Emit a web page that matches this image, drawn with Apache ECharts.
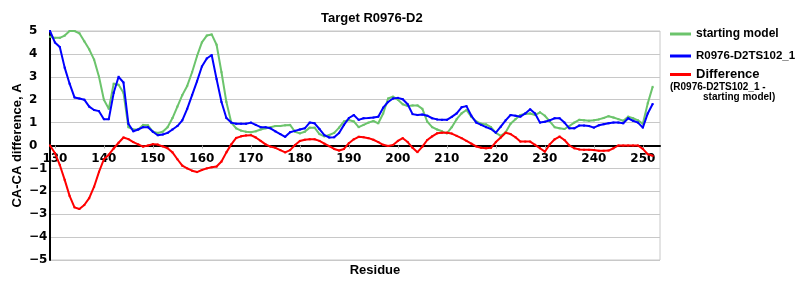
<!DOCTYPE html>
<html>
<head>
<meta charset="utf-8">
<script src="https://cdn.jsdelivr.net/npm/echarts@6/dist/echarts.min.js"></script>
<style>html,body{margin:0;padding:0;background:#fff}#c{width:800px;height:300px}</style>
</head>
<body>
<div id="c"></div>
<script>
const firstResidue = 129;
const xTicks = [130, 140, 150, 160, 170, 180, 190, 200, 210, 220, 230, 240, 250];
const yTicks = [-5, -4, -3, -2, -1, 0, 1, 2, 3, 4, 5];

const startingModel = [
  4.75, 4.7, 4.7, 4.8, 5.0, 5.0, 4.9, 4.55, 4.2, 3.75,
  3.0, 2.0, 1.6, 2.7, 2.65, 2.3, 0.8, 0.7, 0.7, 0.9,
  0.88, 0.6, 0.55, 0.6, 0.8, 1.2, 1.7, 2.2, 2.6, 3.2,
  3.9, 4.5, 4.8, 4.85, 4.4, 3.2, 1.9, 1.0, 0.75, 0.65,
  0.6, 0.58, 0.62, 0.7, 0.75, 0.8, 0.85, 0.85, 0.88, 0.9,
  0.6, 0.53, 0.6, 0.78, 0.78, 0.5, 0.4, 0.46, 0.55, 0.78,
  1.05, 1.11, 1.05, 0.8, 0.9, 1.0, 1.07, 0.97, 1.4, 2.05,
  2.13, 2.0, 1.8, 1.72, 1.75, 1.75, 1.6, 1.04, 0.8, 0.7,
  0.62, 0.53, 0.8, 1.15, 1.4, 1.55, 1.25, 1.05, 0.95, 0.92,
  0.8, 0.55, 0.42, 0.58, 0.95, 1.15, 1.33, 1.38, 1.4, 1.33,
  1.45, 1.3, 1.05, 0.8, 0.75, 0.72, 0.85, 1.0, 1.12, 1.1,
  1.08, 1.1, 1.14, 1.2, 1.28, 1.22, 1.15, 1.08, 1.26, 1.19,
  1.1, 0.95, 1.84, 2.56
];

const model = [
  5.0, 4.5, 4.3, 3.4, 2.7, 2.1, 2.05, 2.0, 1.7, 1.55,
  1.5, 1.15, 1.15, 2.3, 3.0, 2.75, 0.95, 0.62, 0.7, 0.8,
  0.8, 0.6, 0.45, 0.48, 0.55, 0.7, 0.85, 1.1, 1.6, 2.2,
  2.8, 3.45, 3.8, 3.95, 2.9, 1.9, 1.2, 1.0, 0.95, 0.95,
  0.95, 1.0, 0.9, 0.8, 0.8, 0.75, 0.62, 0.5, 0.38, 0.58,
  0.64, 0.7, 0.75, 1.0, 0.97, 0.72, 0.45, 0.35, 0.36, 0.55,
  0.9, 1.2, 1.33, 1.12, 1.19, 1.2, 1.22, 1.26, 1.65, 1.9,
  2.05, 2.08, 2.02, 1.8, 1.37, 1.33, 1.35, 1.3, 1.19, 1.14,
  1.12, 1.12, 1.25, 1.4, 1.67, 1.72, 1.3, 1.0, 0.9, 0.8,
  0.72, 0.56, 0.82, 1.1, 1.33, 1.3, 1.26, 1.4, 1.58, 1.4,
  1.0, 1.04, 1.1, 1.19, 1.19, 1.0, 0.75, 0.75, 0.87, 0.87,
  0.85, 0.78, 0.88, 0.93, 0.97, 1.0, 1.0, 0.97, 1.19, 1.08,
  1.0, 0.78, 1.4, 1.81
];

const difference = [
  0, -0.33, -0.85, -1.5, -2.2, -2.7, -2.77, -2.6, -2.3, -1.8,
  -1.15, -0.6, -0.4, -0.13, 0.12, 0.35, 0.28, 0.15, 0.05, -0.05,
  0, 0.06, 0.04, -0.04, -0.12, -0.3, -0.6, -0.88, -1.0, -1.1,
  -1.16, -1.07, -1.0, -0.95, -0.92, -0.7, -0.3, 0.05, 0.33, 0.4,
  0.44, 0.45, 0.35, 0.2, 0.05, -0.05, -0.1, -0.2, -0.3, -0.2,
  0.02, 0.2, 0.25, 0.27, 0.27, 0.2, 0.08, -0.03, -0.15, -0.22,
  -0.15, 0.1, 0.27, 0.38, 0.36, 0.32, 0.25, 0.15, 0.03, -0.02,
  0.02, 0.2, 0.32, 0.15, -0.1, -0.29, -0.05, 0.24, 0.4, 0.53,
  0.56, 0.56, 0.52, 0.42, 0.32, 0.2, 0.08, -0.04, -0.1, -0.12,
  -0.1, 0.15, 0.35, 0.56, 0.5, 0.36, 0.17, 0.17, 0.17, 0.03,
  -0.12, -0.27, 0.05, 0.27, 0.39, 0.24, 0.0, -0.12, -0.17, -0.19,
  -0.19, -0.2, -0.23, -0.23, -0.22, -0.12, 0, 0, 0, 0,
  0, -0.15, -0.38, -0.45
];

const seriesNames = ['starting model', 'R0976-D2TS102_1', 'Difference'];
const colors = ['#6cc46c', '#0000ff', '#ff0000'];

function pairs(arr) { return arr.map((v, i) => [firstResidue + i, v]); }

const tickFont = { fontFamily: 'DejaVu Sans', fontWeight: 'bold', fontSize: 12, color: '#000' };
const labelFont = { fontFamily: 'Liberation Sans', fontWeight: 'bold', color: '#000' };

function lineSeries(name, data, color, z) {
  return {
    name: name, type: 'line', data: pairs(data), z: z,
    lineStyle: { color: color, width: 2 },
    itemStyle: { color: color },
    symbol: 'rect', symbolSize: 2, showSymbol: true,
    animation: false
  };
}

const chart = echarts.init(document.getElementById('c'), null, { renderer: 'canvas' });
chart.setOption({
  animation: false,
  backgroundColor: '#fff',
  title: {
    text: 'Target R0976-D2', left: 316, top: 7,
    textStyle: Object.assign({}, labelFont, { fontSize: 13 })
  },
  grid: { left: 50, right: 140, top: 31, bottom: 40, show: true, borderColor: '#c8c8c8', borderWidth: 1, outerBoundsMode: 'none', containLabel: false },
  legend: [
    {
      data: [
        { name: seriesNames[0] },
        { name: seriesNames[1], textStyle: { fontSize: 11.5 } }
      ],
      orient: 'vertical', left: 670, top: 28, width: 130, padding: 0,
      icon: 'rect', itemWidth: 21, itemHeight: 3, itemGap: 10,
      textStyle: Object.assign({ overflow: 'none', width: 120 }, labelFont, { fontSize: 12 })
    },
    {
      data: [seriesNames[2]], orient: 'vertical', left: 670, top: 68, width: 130, padding: 0,
      icon: 'rect', itemWidth: 21, itemHeight: 3,
      textStyle: Object.assign({ overflow: 'none', width: 120 }, labelFont, { fontSize: 13 })
    }
  ],
  graphic: [
    { type: 'text', left: 670, top: 82, style: { text: '(R0976-D2TS102_1 -', font: 'bold 10px "Liberation Sans"', fill: '#000' } },
    { type: 'text', left: 703, top: 92, style: { text: 'starting model)', font: 'bold 10px "Liberation Sans"', fill: '#000' } }
  ],
  xAxis: {
    type: 'value', min: firstResidue, max: 253.5, position: 'bottom', offset: -114.5,
    axisLine: { onZero: false, lineStyle: { color: '#000', width: 2 } },
    axisTick: { show: true, customValues: xTicks, length: 3, lineStyle: { color: '#aaa' } },
    axisLabel: Object.assign({ customValues: xTicks, margin: 7 }, tickFont),
    splitLine: { show: false },
    name: 'Residue', nameLocation: 'middle', nameGap: 118, nameMoveOverlap: false,
    nameTextStyle: Object.assign({ padding: [0, 0, 0, 40] }, labelFont, { fontSize: 13 })
  },
  yAxis: {
    type: 'value', min: yTicks[0], max: yTicks[yTicks.length - 1], interval: 1,
    axisLine: { show: true, onZero: false, lineStyle: { color: '#000', width: 2 } },
    axisTick: { show: false },
    axisLabel: Object.assign({
      margin: 21, align: 'left',
      formatter: v => v < 0 ? '\u2212' + Math.abs(v) : String(v)
    }, tickFont),
    splitLine: { show: true, lineStyle: { color: '#c8c8c8', width: 1 } },
    name: 'CA-CA difference, A', nameLocation: 'middle', nameRotate: 90, nameGap: 26, nameMoveOverlap: false,
    nameTextStyle: Object.assign({}, labelFont, { fontSize: 13 })
  },
  series: [
    lineSeries(seriesNames[0], startingModel, colors[0], 2),
    lineSeries(seriesNames[1], model, colors[1], 3),
    lineSeries(seriesNames[2], difference, colors[2], 4)
  ]
});
</script>
</body>
</html>
